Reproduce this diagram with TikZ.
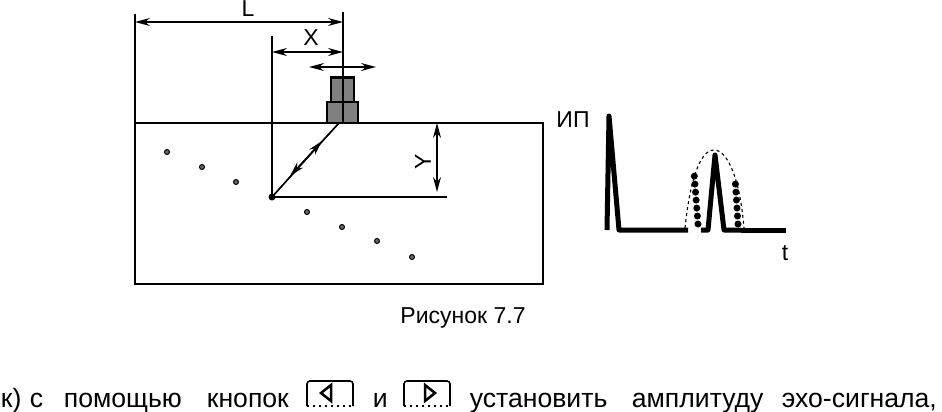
\documentclass[tikz,border=0pt]{standalone}
\usepackage{fontspec}
\setmainfont{Liberation Sans}
\usetikzlibrary{arrows.meta}

\begin{document}
\begin{tikzpicture}
	[
		x=1pt,
		y=-1pt,
		line width=1.8pt,
		dimline/.style={line width=1.4pt,{Stealth[length=15pt,width=8pt,inset=5pt]}-{Stealth[length=15pt,width=8pt,inset=5pt]}},
		label/.style={inner sep=0pt,font=\fontsize{23}{23}\selectfont},
		word/.style={inner sep=0pt,anchor=base west,font=\fontsize{26.6}{26.6}\selectfont}
	]
	
	\tikzstyle{Dot} = [
		circle, 
		inner sep=0pt, 
		minimum size=5pt, 
		draw=black, 
		line width=1pt, 
		fill=black!60
	]
	\tikzstyle{Probe} = [
		rectangle, 
		inner sep=0pt, 
		draw=black, 
		line width=2.5pt, 
		fill=black!50
	]
	\tikzstyle{Button} = [
		rectangle, 
		rounded corners=3pt, 
		line width=1.6pt
	]
	
	\useasboundingbox (0,0) rectangle (942,412);
	
	% block
	\coordinate (boxNW) at (135,123);
	\coordinate (boxNE) at (543,123);
	\coordinate (boxSE) at (543,284);
	\coordinate (boxSW) at (135,284);
	\draw (boxNW) -- (boxNE) -- (boxSE) -- (boxSW) -- cycle;
	
	% extension lines
	\coordinate (leftTop) at (135,14);
	\coordinate (probeTop) at (343,12);
	\coordinate (probeFoot) at (343,123);
	\coordinate (originTop) at (272,36);
	\coordinate (origin) at (272,197);
	\coordinate (originEnd) at (447,197);
	\draw (leftTop) -- (boxNW);
	\draw (probeTop) -- (probeFoot);
	\draw (originTop) -- (origin);
	\draw (origin) -- (originEnd);
	
	% probe
	\node [Probe, minimum width=23pt, minimum height=25pt] (probeUp) at (342.5,90) {};
	\node [Probe, minimum width=31pt, minimum height=21pt] (probeLow) at (342.5,112.5) {};
	\draw [line width=1.2pt] (probeTop |- probeUp.north) -- (probeTop |- probeLow.south);
	
	% dimensions
	\coordinate (dimLa) at (135,22);
	\coordinate (dimLb) at (343,22);
	\coordinate (dimXa) at (272,52);
	\coordinate (dimXb) at (343,52);
	\coordinate (moveA) at (309,67);
	\coordinate (moveB) at (376,67);
	\coordinate (dimYa) at (437,123);
	\coordinate (dimYb) at (437,192);
	\draw [dimline] (dimLa) -- (dimLb);
	\draw [dimline] (dimXa) -- (dimXb);
	\draw [dimline] (moveA) -- (moveB);
	\draw [dimline] (dimYa) -- (dimYb);
	\node [label] (labelL) at (248,8.5) {L};
	\node [label] (labelX) at (311,38) {X};
	\node [label, rotate=90] (labelY) at (423,162) {Y};
	
	% ray
	\coordinate (rayTop) at (339,123);
	\coordinate (rayUp) at (322,141);
	\coordinate (rayDown) at (290,176);
	\draw [line width=1.4pt] (rayTop) -- (origin);
	\draw [line width=1.4pt, -{Stealth[length=15pt,width=8pt,inset=5pt]}] (origin) -- (rayUp);
	\draw [line width=1.4pt, -{Stealth[length=15pt,width=8pt,inset=5pt]}] (rayTop) -- (rayDown);
	\fill (origin) circle (3.5pt);
	
	% reflectors
	\foreach \name/\px/\py in {a/167/152,b/202/167,c/236/182,d/307/212,e/342/227,f/377/241,g/412/257}
		\node [Dot] (dot\name) at (\px,\py) {};
	
	% signal
	\node [label] (labelAmp) at (573,120) {ИП};
	\node [label] (labelT) at (785,253) {t};
	\coordinate (startL) at (607,230);
	\coordinate (startTop) at (609,116);
	\coordinate (startR) at (619,230);
	\coordinate (baseA) at (688,230);
	\coordinate (baseB) at (701,230);
	\coordinate (echoL) at (708,230);
	\coordinate (echoTop) at (715,155);
	\coordinate (echoR) at (724,230);
	\coordinate (baseC) at (741,230);
	\coordinate (baseD) at (786,230);
	\draw [line width=5pt, line join=round] (startL) -- (startTop) -- (startR) -- (baseA);
	\draw [line width=5pt, line join=round] (baseB) -- (echoL) -- (echoTop) -- (echoR) -- (baseC);
	\draw [line width=5pt] (baseC) -- (baseD);
	\coordinate (envL) at (685,228);
	\coordinate (envTop) at (714,150);
	\coordinate (envR) at (744,228);
	\draw [line width=1.1pt, dash pattern=on 3pt off 3pt] (envL) .. controls (690,180) and (700,150) .. (envTop) .. controls (728,150) and (740,180) .. (envR);
	\coordinate (gateLa) at (698,224);
	\coordinate (gateLb) at (694,172);
	\coordinate (gateRa) at (738,224);
	\coordinate (gateRb) at (735,177);
	\draw [line width=7pt, line cap=round, dash pattern=on 0pt off 8pt] (gateLa) -- (gateLb);
	\draw [line width=7pt, line cap=round, dash pattern=on 0pt off 8pt] (gateRa) -- (gateRb);
	
	% caption
	\node [label] (caption) at (463,318) {Рисунок 7.7};
	
	% text line
	\node [word] (w1) at (0,407) {к)};
	\node [word] (w2) at (29,407) {с};
	\node [word] (w3) at (63,407) {помощью};
	\node [word] (w4) at (206,407) {кнопок};
	\node [word] (w5) at (372,407) {и};
	\node [word] (w6) at (469,407) {установить};
	\node [word] (w7) at (631,407) {амплитуду};
	\node [word] (w8) at (781,407) {эхо-сигнала,};
	
	% buttons
	\coordinate (btnAa) at (307,406);
	\coordinate (btnAb) at (307,381);
	\coordinate (btnAc) at (353,381);
	\coordinate (btnAd) at (353,406);
	\coordinate (btnBa) at (404,406);
	\coordinate (btnBb) at (404,381);
	\coordinate (btnBc) at (450,381);
	\coordinate (btnBd) at (450,406);
	\draw [Button] (btnAa) -- (btnAb) -- (btnAc) -- (btnAd);
	\draw [Button] (btnBa) -- (btnBb) -- (btnBc) -- (btnBd);
	\draw [line width=1.6pt, dash pattern=on 2pt off 4pt] (btnAa) -- (btnAd);
	\draw [line width=1.6pt, dash pattern=on 2pt off 4pt] (btnBa) -- (btnBd);
	\coordinate (triAa) at (331,385);
	\coordinate (triAb) at (321,393);
	\coordinate (triAc) at (331,401);
	\coordinate (triBa) at (425,385);
	\coordinate (triBb) at (435,393);
	\coordinate (triBc) at (425,401);
	\draw [line width=2.5pt] (triAa) -- (triAb) -- (triAc) -- cycle;
	\draw [line width=2.5pt] (triBa) -- (triBb) -- (triBc) -- cycle;
\end{tikzpicture}
\end{document}
